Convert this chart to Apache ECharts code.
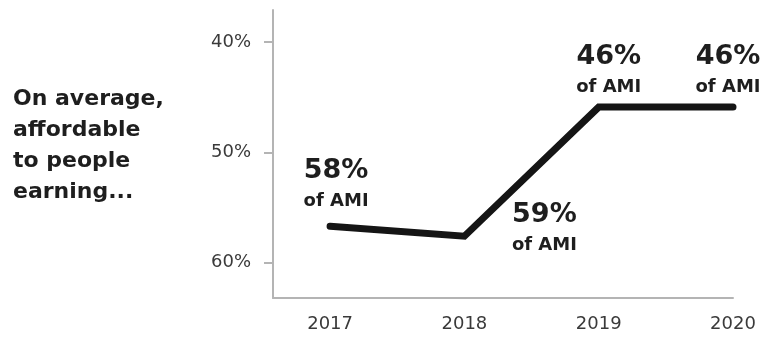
<!DOCTYPE html>
<html>
<head>
<meta charset="utf-8">
<script src="https://cdn.jsdelivr.net/npm/echarts@6/dist/echarts.min.js"></script>
<style>
html,body{margin:0;padding:0;background:#fff;}
#c{width:762px;height:337px;}
</style>
</head>
<body>
<div id="c"></div>
<script>
// Data
var years = [2017, 2018, 2019, 2020];
var plotted = [56.7, 57.6, 45.9, 45.9];           // position of the line (share of AMI, %)
var labelPct = ['58%', '59%', '46%', '46%'];       // printed values
var yTicks = [40, 50, 60];
var sideText = 'On average,\naffordable\nto people\nearning...';

var BOLD = 'DejaVu Sans';
var REG = 'DejaVu Sans';
// label placement styles (per point), relative to the point
var labelStyle = [
  {pos: [6, -12], v: 'bottom'},
  {pos: [80, -38], v: 'top'},
  {pos: [10, -7], v: 'bottom'},
  {pos: [-5, -7], v: 'bottom'}
];

var seriesData = years.map(function (y, i) {
  return {
    value: [y, plotted[i]],
    label: {
      show: true,
      position: labelStyle[i].pos,
      align: 'center',
      verticalAlign: labelStyle[i].v,
      formatter: '{a|' + labelPct[i] + '}\n{b|of AMI}',
      rich: {
        a: {fontFamily: BOLD, fontSize: 27, fontWeight: 'bold', color: '#1e1e1e', lineHeight: 34, align: 'center'},
        b: {fontFamily: BOLD, fontSize: 18, fontWeight: 'bold', color: '#1e1e1e', lineHeight: 26, align: 'center'}
      }
    }
  };
});

var chart = echarts.init(document.getElementById('c'), null, {renderer: 'canvas'});
chart.setOption({
  animation: false,
  backgroundColor: '#fff',
  title: {
    text: sideText,
    left: 13,
    top: 84,
    padding: 0,
    textStyle: {fontFamily: BOLD, fontSize: 22, fontWeight: 'bold', color: '#1e1e1e', lineHeight: 31}
  },
  grid: {left: 273, right: 29, top: 10, bottom: 39},
  xAxis: {
    type: 'value',
    min: 2016.575,
    max: 2020,
    splitLine: {show: false},
    axisLine: {show: true, onZero: false, lineStyle: {color: '#b4b4b4', width: 2}},
    axisTick: {show: false},
    axisLabel: {
      customValues: years,
      margin: 17,
      fontFamily: REG,
      fontSize: 18,
      color: '#3a3a3a',
      formatter: function (v) { return String(v); }
    }
  },
  yAxis: {
    type: 'value',
    inverse: true,
    min: 37.1,
    max: 63.2,
    splitLine: {show: false},
    axisLine: {show: true, lineStyle: {color: '#b4b4b4', width: 2}},
    axisTick: {show: true, customValues: yTicks, length: 9, lineStyle: {color: '#b4b4b4', width: 2}},
    axisLabel: {
      customValues: yTicks,
      margin: 22,
      fontFamily: REG,
      fontSize: 18,
      color: '#3a3a3a',
      formatter: function (v) { return v + '%'; }
    }
  },
  series: [{
    type: 'line',
    data: seriesData,
    symbol: 'circle',
    symbolSize: 0.01,
    showSymbol: true,
    itemStyle: {color: '#151515'},
    lineStyle: {color: '#151515', width: 7, cap: 'round', join: 'miter'},
    labelLayout: {hideOverlap: false},
    z: 3
  }]
});
</script>
</body>
</html>
